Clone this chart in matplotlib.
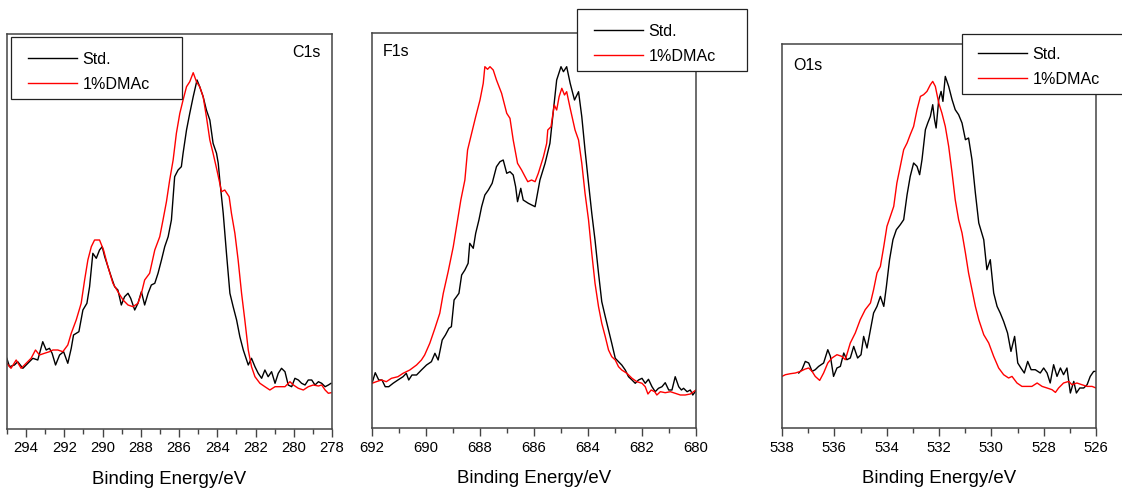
import matplotlib
matplotlib.use('Agg')
import matplotlib.pyplot as plt
from matplotlib.patches import Rectangle
from matplotlib.ticker import MultipleLocator

W, H = 1122, 492

# ---- C1s ----
c1s_std_e = [295.01, 294.87, 294.61, 294.44, 294.17, 293.91, 293.65, 293.39, 293.13, 292.95, 292.78, 292.64,
             292.46, 292.25, 292.04, 291.82, 291.64, 291.52, 291.24, 291.03, 290.82, 290.68, 290.51, 290.33,
             290.16, 290.02, 289.89, 289.72, 289.55, 289.37, 289.20, 289.02, 288.85, 288.67, 288.53, 288.32,
             288.15, 287.97, 287.80, 287.62, 287.45, 287.27, 287.10, 286.92, 286.75, 286.57, 286.40, 286.23,
             286.05, 285.88, 285.79, 285.61, 285.44, 285.26, 285.06, 284.92, 284.74, 284.57, 284.39, 284.22,
             284.04, 283.95, 283.87, 283.69, 283.52, 283.34, 283.17, 282.99, 282.82, 282.64, 282.38, 282.21,
             282.03, 281.86, 281.68, 281.51, 281.34, 281.16, 280.98, 280.81, 280.64, 280.46, 280.29, 280.11,
             279.94, 279.76, 279.59, 279.41, 279.24, 279.06, 278.89, 278.71, 278.54, 278.36, 278.19, 278.05]
c1s_std_i = [70.7, 62.3, 64, 67.3, 60.7, 65.7, 70.7, 69, 87.3, 79, 80.7, 75.7,
             64, 74, 77.3, 65.7, 80.7, 94, 97.3, 119, 125.7, 142.3, 175.7, 170.7,
             179, 182.3, 172.3, 162.3, 152.3, 142.3, 139, 124, 132.3, 135.7, 130.7, 119,
             125.7, 137.3, 124, 135.7, 144, 145.7, 155.7, 169, 182.3, 192.3, 209, 252.3,
             259, 262.3, 275.7, 299, 315.7, 332.3, 349, 342.3, 332.3, 319, 309, 285.7,
             275.7, 265.7, 249, 215.7, 175.7, 135.7, 122.3, 109, 92.3, 79, 64, 70.7,
             62.3, 55.7, 50.7, 59, 52.3, 57.3, 45.7, 55.7, 60.7, 57.3, 44, 42.3,
             50.7, 49, 45.7, 44, 49, 49, 44, 47.3, 45.7, 42.3, 44, 45.7]
c1s_dmac_e = [295.01, 294.79, 294.52, 294.26, 294.00, 293.74, 293.51, 293.30, 293.04, 292.78, 292.60, 292.34,
              292.08, 291.82, 291.64, 291.38, 291.12, 290.94, 290.77, 290.59, 290.42, 290.16, 289.95, 289.72,
              289.46, 289.20, 288.93, 288.67, 288.41, 288.15, 287.97, 287.80, 287.54, 287.27, 287.01, 286.84,
              286.66, 286.49, 286.31, 286.14, 285.96, 285.79, 285.61, 285.44, 285.26, 285.09, 284.92, 284.74,
              284.57, 284.39, 284.22, 284.04, 283.87, 283.78, 283.61, 283.38, 283.26, 283.08, 282.91, 282.73,
              282.56, 282.38, 282.21, 282.03, 281.77, 281.51, 281.25, 280.98, 280.72, 280.46, 280.20, 280.02,
              279.76, 279.50, 279.24, 278.98, 278.71, 278.54, 278.36, 278.19, 278.05]
c1s_dmac_i = [65.7, 60.7, 69, 60.7, 65.7, 70.7, 79, 74, 75.7, 77.3, 79, 79,
              77.3, 84, 95.7, 109, 125.7, 149, 169, 182.3, 189, 189, 179, 162.3,
              145.7, 137.3, 129, 124, 122.3, 125.7, 135.7, 149, 155.7, 179, 192.3, 209,
              227.3, 249, 269, 295.7, 315.7, 329, 342.3, 347.3, 356.3, 347.3, 342.3, 332.3,
              312.3, 289, 275.7, 260.7, 245.7, 237.3, 239, 232.3, 215.7, 195.7, 169, 135.7,
              109, 79, 62.3, 52.3, 45.7, 42.3, 39, 42.3, 42.3, 42.3, 47.3, 44,
              40.7, 39, 42.3, 44, 43, 44, 39, 35.7, 36.3]

# ---- F1s ----
f1s_std_e = [692.00, 691.88, 691.75, 691.63, 691.51, 691.38, 691.22, 691.04, 690.85, 690.73, 690.64, 690.52,
             690.35, 690.17, 689.98, 689.80, 689.67, 689.55, 689.40, 689.28, 689.15, 689.06, 688.96, 688.87,
             688.78, 688.68, 688.56, 688.44, 688.38, 688.25, 688.16, 688.04, 687.94, 687.82, 687.69, 687.55,
             687.39, 687.26, 687.14, 687.01, 686.89, 686.77, 686.68, 686.61, 686.49, 686.40, 686.21, 685.96,
             685.78, 685.59, 685.41, 685.28, 685.16, 685.00, 684.91, 684.79, 684.66, 684.50, 684.35, 684.23,
             684.11, 683.98, 683.86, 683.74, 683.61, 683.49, 683.36, 683.24, 683.12, 682.99, 682.87, 682.75,
             682.62, 682.50, 682.37, 682.25, 682.13, 682.00, 681.88, 681.76, 681.63, 681.51, 681.39, 681.26,
             681.14, 681.01, 680.89, 680.77, 680.64, 680.54, 680.46, 680.33, 680.21, 680.12, 680.00]
f1s_std_i = [44.7, 55.3, 48, 48, 41.3, 41.3, 44.7, 48, 51.3, 54.7, 48, 53,
             53, 58, 63, 66.3, 74.7, 68, 88, 93, 99.7, 101.3, 128, 131.3,
             134.7, 153, 158, 164.7, 184.7, 179.7, 194.7, 208, 221.3, 233, 238, 244.7,
             261.3, 266.3, 268, 254.7, 256.3, 253, 241.3, 226.3, 239.7, 228, 224.7, 221.3,
             248, 264.7, 284.7, 318, 348, 361.3, 356.3, 361.3, 344.7, 328, 336.3, 311.3,
             278, 244.7, 214.7, 188, 154.7, 126.3, 111.3, 98, 84.7, 69.7, 66.3, 63,
             58, 51.3, 48, 44.7, 48, 49.7, 44.7, 48.7, 41.3, 36.3, 39.7, 41.3,
             45.3, 38, 38, 51.3, 41.3, 38, 39.7, 36.3, 38, 33, 37.3]
f1s_dmac_e = [692.00, 691.84, 691.65, 691.47, 691.28, 691.04, 690.85, 690.60, 690.35, 690.17, 690.05, 689.86,
              689.67, 689.49, 689.36, 689.18, 688.99, 688.87, 688.71, 688.56, 688.46, 688.31, 688.16, 688.00,
              687.88, 687.82, 687.72, 687.63, 687.51, 687.39, 687.20, 687.01, 686.89, 686.77, 686.61, 686.46,
              686.33, 686.23, 686.09, 685.96, 685.84, 685.65, 685.53, 685.49, 685.37, 685.25, 685.16, 685.07,
              684.97, 684.87, 684.79, 684.66, 684.48, 684.35, 684.23, 684.11, 683.98, 683.86, 683.74, 683.61,
              683.49, 683.36, 683.24, 683.12, 682.99, 682.87, 682.75, 682.56, 682.37, 682.19, 682.00, 681.88,
              681.78, 681.66, 681.53, 681.45, 681.32, 681.14, 680.95, 680.77, 680.58, 680.40, 680.21, 680.09,
              680.00]
f1s_dmac_i = [44.7, 46.3, 48, 46.3, 49.7, 51.3, 54.7, 58, 63, 68, 73, 84.7,
              99.7, 114.7, 134.7, 156.3, 181.3, 201.3, 228, 248, 278, 294.7, 311.3, 328,
              344.7, 361.3, 358.7, 361.3, 358, 348, 334.7, 314.7, 309.7, 288, 264.7, 258,
              251.3, 246.3, 248, 246.3, 254.7, 271.3, 284.7, 298, 301.3, 323, 318, 331.3,
              339.7, 333, 336.3, 319.7, 298, 288, 264.7, 234.7, 208, 174.7, 144.7, 121.3,
              104.7, 91.3, 78, 71.3, 68, 61.3, 58, 54.7, 49.7, 46.3, 44.7, 41.3,
              34, 38, 36.3, 33, 36.3, 35.3, 36.3, 34.7, 33, 33, 34, 36.3,
              38]

# ---- O1s ----
o1s_std_e = [537.36, 537.24, 537.11, 536.98, 536.85, 536.73, 536.60, 536.41, 536.25, 536.15, 536.03, 535.90,
             535.77, 535.64, 535.52, 535.39, 535.26, 535.11, 534.98, 534.88, 534.75, 534.62, 534.50, 534.37,
             534.24, 534.11, 534.01, 533.89, 533.76, 533.63, 533.48, 533.35, 533.22, 533.10, 532.97, 532.84,
             532.74, 532.65, 532.52, 532.43, 532.33, 532.24, 532.17, 532.11, 532.01, 531.92, 531.85, 531.76,
             531.63, 531.50, 531.38, 531.25, 531.12, 530.99, 530.87, 530.74, 530.61, 530.48, 530.29, 530.17,
             530.04, 529.91, 529.78, 529.66, 529.53, 529.38, 529.25, 529.11, 528.99, 528.87, 528.74, 528.61,
             528.48, 528.32, 528.13, 528.00, 527.87, 527.75, 527.62, 527.49, 527.36, 527.24, 527.11, 526.98,
             526.85, 526.75, 526.62, 526.47, 526.34, 526.22, 526.09, 526.00]
o1s_std_i = [55, 58.3, 66.6, 65, 56.6, 58.3, 61.6, 65, 78.3, 71.6, 51.6, 60,
             61.6, 75, 68.3, 70, 81.6, 70, 73.3, 91.6, 80, 98.3, 115, 121.6,
             131.6, 121.6, 141.6, 168.3, 188.3, 198.3, 203.3, 208.3, 233.3, 251.6, 265, 261.6,
             253.3, 268.3, 298.3, 305, 311.6, 323.3, 308.3, 300, 328.3, 336.6, 326.6, 351.6,
             341.6, 328.3, 318.3, 313.3, 305, 288.3, 290, 268.3, 235, 205, 188.3, 158.3,
             168.3, 135, 121.6, 115, 106.6, 95, 76.6, 91.6, 65, 60, 55, 66.6,
             58.3, 58.3, 55, 60, 55, 45, 63.3, 51.6, 60, 53.3, 60, 35,
             46.6, 35, 40, 40, 43.3, 51.6, 56.6, 56.6]
o1s_dmac_e = [538.00, 537.87, 537.68, 537.49, 537.30, 537.11, 536.98, 536.85, 536.73, 536.56, 536.41, 536.25,
              536.09, 535.90, 535.71, 535.58, 535.39, 535.20, 535.01, 534.82, 534.62, 534.50, 534.37, 534.24,
              534.11, 533.99, 533.86, 533.73, 533.61, 533.48, 533.35, 533.22, 533.10, 532.97, 532.84, 532.71,
              532.59, 532.46, 532.33, 532.24, 532.14, 532.01, 531.89, 531.76, 531.63, 531.50, 531.38, 531.25,
              531.12, 530.99, 530.87, 530.74, 530.61, 530.48, 530.29, 530.10, 529.91, 529.72, 529.53, 529.34,
              529.21, 529.02, 528.83, 528.64, 528.45, 528.25, 528.06, 527.87, 527.68, 527.55, 527.43, 527.24,
              527.04, 526.92, 526.73, 526.54, 526.34, 526.15, 526.00]
o1s_dmac_i = [51.6, 53.3, 54.3, 55, 56.6, 59, 60, 56.6, 51.6, 47.6, 55, 65,
              70, 73.3, 71.6, 68.3, 85, 95, 108.3, 118.3, 125, 138.3, 155, 161.6,
              181.6, 201.6, 211.6, 221.6, 245, 261.6, 278.3, 285, 293.3, 301.6, 318.3, 331.6,
              333.3, 336.6, 343.3, 346.6, 341.6, 325, 315, 301.6, 281.6, 255, 228.3, 208.3,
              195, 175, 155, 138.3, 121.6, 108.3, 93.3, 85, 71.6, 60, 53.3, 50,
              51.6, 45, 41.6, 41.6, 41.6, 45, 41.6, 40, 38.3, 35.6, 40, 45,
              46.6, 43.3, 45, 43.3, 41.6, 41.6, 40]

labels = ['Std.', '1%DMAc']
panel_names = ['C1s', 'F1s', 'O1s']
xlims = [(295, 278), (692, 680), (538, 526)]

# pixel layout: left, top, right, bottom
axes_px = [(7, 34, 332, 429), (372, 33, 696, 428), (782, 44, 1096, 428)]
legend_box_px = [(11, 37, 171, 62), (577, 9, 170, 62), (962, 34, 163, 60)]
legend_anchor_px = [(28, 52), (594, 24), (978, 47)]
name_pos = [(0.92, 0.954, 'center'), (0.034, 0.952, 'left'), (0.035, 0.945, 'left')]

series = [
    (c1s_std_e, c1s_std_i, c1s_dmac_e, c1s_dmac_i),
    (f1s_std_e, f1s_std_i, f1s_dmac_e, f1s_dmac_i),
    (o1s_std_e, o1s_std_i, o1s_dmac_e, o1s_dmac_i),
]

SPINE = '#444444'


def main():
    plt.rcParams['font.family'] = ['Liberation Sans', 'DejaVu Sans']
    fig = plt.figure(figsize=(W / 100, H / 100), dpi=100)

    for k in range(3):
        l, t, r, b = axes_px[k]
        ax = fig.add_axes([l / W, 1 - b / H, (r - l) / W, (b - t) / H])
        se, si, de, di = series[k]
        h1, = ax.plot(se, si, color='black', lw=1.0, label=labels[0])
        h2, = ax.plot(de, di, color='#ff0000', lw=1.0, label=labels[1])
        ax.set_xlim(*xlims[k])
        ax.set_ylim(0, b - t)

        ax.xaxis.set_major_locator(MultipleLocator(2))
        ax.xaxis.set_minor_locator(MultipleLocator(1))
        ax.tick_params(axis='x', which='major', direction='out', length=6, width=1, color=SPINE,
                       labelsize=10.7, pad=3)
        ax.tick_params(axis='x', which='minor', direction='out', length=3.5, width=1, color=SPINE)
        ax.tick_params(axis='y', which='both', left=False, labelleft=False)
        for s in ax.spines.values():
            s.set_color(SPINE)
            s.set_linewidth(1.1)

        ax.set_xlabel('Binding Energy/eV', fontsize=13.4, labelpad=11)

        nx, ny, ha = name_pos[k]
        ax.text(nx, ny, panel_names[k], transform=ax.transAxes, ha=ha, va='center', fontsize=11.5)

        # legend frame drawn separately so it can sit over the axes edge like the original
        bx, by, bw, bh = legend_box_px[k]
        fig.add_artist(Rectangle((bx / W, 1 - (by + bh) / H), bw / W, bh / H, transform=fig.transFigure,
                                 facecolor='white', edgecolor='#222222', lw=0.9, zorder=4))
        lx, ly = legend_anchor_px[k]
        leg = fig.legend(handles=[h1, h2], labels=labels, loc='upper left',
                         bbox_to_anchor=(lx / W, 1 - ly / H), bbox_transform=fig.transFigure,
                         frameon=False, borderpad=0, borderaxespad=0, handlelength=3.05,
                         handletextpad=0.33, labelspacing=0.6, fontsize=11.6)
        leg.set_zorder(5)

    fig.savefig('out.png', dpi=100)


if __name__ == '__main__':
    main()
